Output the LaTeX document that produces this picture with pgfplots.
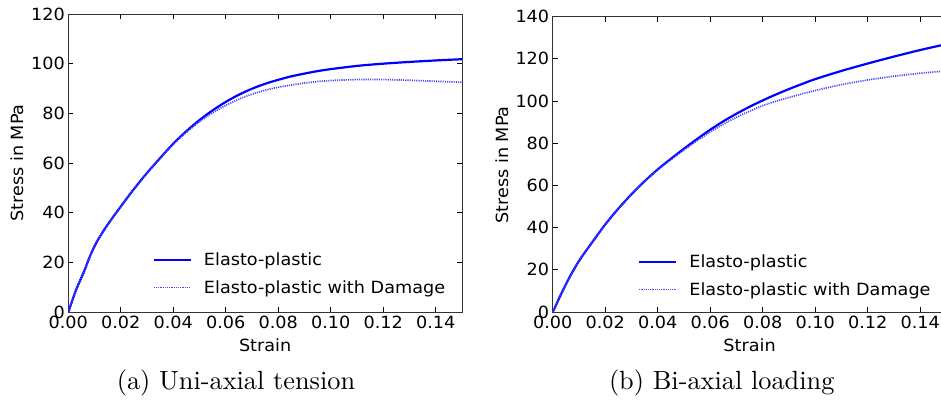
\documentclass[border=0pt]{standalone}
\usepackage{pgfplots}
\pgfplotsset{compat=1.18}
\usepackage{fontspec}
\newfontfamily\dejavu[FakeStretch=1.05]{DejaVu Sans}
\newfontfamily\capfont[Extension=.otf]{lmroman10-regular}

\definecolor{epblue}{RGB}{0,0,255}
\definecolor{dmgblue}{RGB}{70,70,255}

% Elasto-plastic response, uni-axial tension
\pgfplotstableread{
strain stress
0.0000 0.0
0.0005 1.5
0.0030 9.0
0.0060 16.3
0.0080 21.8
0.0100 26.5
0.0120 30.3
0.0150 35.2
0.0200 42.5
0.0250 49.5
0.0300 56.0
0.0350 62.0
0.0400 67.8
0.0450 72.8
0.0500 77.3
0.0550 81.2
0.0600 84.6
0.0650 87.5
0.0700 89.9
0.0750 91.9
0.0800 93.5
0.0850 94.9
0.0900 96.0
0.0950 97.0
0.1000 97.8
0.1100 99.1
0.1200 100.0
0.1300 100.7
0.1400 101.3
0.1500 101.8
}\uniEP

% Elasto-plastic response with damage, uni-axial tension
\pgfplotstableread{
strain stress
0.0000 0.0
0.0005 1.5
0.0030 9.0
0.0060 16.3
0.0080 21.8
0.0100 26.5
0.0120 30.3
0.0150 35.2
0.0200 42.5
0.0250 49.5
0.0300 56.0
0.0350 62.0
0.0400 67.6
0.0450 72.4
0.0500 76.6
0.0550 80.2
0.0600 83.2
0.0650 85.7
0.0700 87.7
0.0750 89.3
0.0800 90.5
0.0850 91.4
0.0900 92.2
0.0950 92.8
0.1000 93.2
0.1100 93.6
0.1200 93.6
0.1300 93.3
0.1400 92.9
0.1500 92.5
}\uniDM

% Elasto-plastic response, bi-axial loading
\pgfplotstableread{
strain stress
0.0000 0.0
0.0005 1.2
0.0030 8.0
0.0060 15.5
0.0080 20.0
0.0100 24.2
0.0120 27.8
0.0150 33.0
0.0200 41.5
0.0250 49.0
0.0300 55.8
0.0350 62.0
0.0400 67.6
0.0450 72.6
0.0500 77.4
0.0550 82.0
0.0600 86.4
0.0650 90.4
0.0700 94.0
0.0750 97.3
0.0800 100.3
0.0850 103.1
0.0900 105.7
0.0950 108.1
0.1000 110.4
0.1100 114.3
0.1200 117.8
0.1300 121.1
0.1400 124.2
0.1500 127.0
}\biEP

% Elasto-plastic response with damage, bi-axial loading
\pgfplotstableread{
strain stress
0.0000 0.0
0.0005 1.2
0.0030 8.0
0.0060 15.5
0.0080 20.0
0.0100 24.2
0.0120 27.8
0.0150 33.0
0.0200 41.5
0.0250 49.0
0.0300 55.8
0.0350 62.0
0.0400 67.4
0.0450 72.2
0.0500 76.8
0.0550 81.2
0.0600 85.3
0.0650 89.0
0.0700 92.3
0.0750 95.2
0.0800 97.8
0.0850 99.9
0.0900 101.7
0.0950 103.4
0.1000 105.0
0.1100 107.8
0.1200 110.0
0.1300 111.8
0.1400 113.2
0.1500 114.3
}\biDM

\pgfplotsset{
  panel/.style={
    scale only axis,
    anchor=south west,
    xmin=0, xmax=0.15, ymin=0,
    tick align=inside,
    major tick length=5pt,
    axis line style={line width=0.9pt, black!80},
    every tick/.style={black, line width=0.8pt},
    xtick={0,0.02,0.04,0.06,0.08,0.10,0.12,0.14},
    xticklabels={0.00,0.02,0.04,0.06,0.08,0.10,0.12,0.14},
    /pgf/number format/assume math mode=true,
    ticklabel style={font=\dejavu\fontsize{16.8}{20}\selectfont},
    label style={font=\dejavu\fontsize{16.8}{20}\selectfont},
    xlabel={Strain},
    ylabel={Stress in MPa},
    legend cell align=left,
    legend image code/.code={\draw[##1] (0pt,0pt) -- (37pt,0pt);},
    legend style={draw=none, fill=none, inner sep=0pt,
      font=\dejavu\fontsize{16.8}{20}\selectfont,
      row sep=9pt,
      /tikz/every odd column/.append style={column sep=10pt}},
  },
  ep/.style={epblue, line width=2.2pt, smooth},
  dm/.style={dmgblue, line width=1.7pt, dash pattern=on 1.1pt off 1.1pt, smooth},
}

\begin{document}
\begin{tikzpicture}[x=1pt,y=1pt]
\useasboundingbox (0,0) rectangle (941,399);

\begin{axis}[panel,
  at={(68.3pt,87pt)}, width=393.7pt, height=298pt,
  ymax=120, ytick={0,20,40,60,80,100,120},
  xlabel style={at={(axis description cs:0.5,-0.111)}, anchor=center},
  ylabel style={at={(axis description cs:-0.130,0.5)}, anchor=center},
  legend style={at={(rel axis cs:0.214,0.205)}, anchor=north west},
]
\addplot[ep] table[x=strain, y=stress] {\uniEP};
\addlegendentry{Elasto-plastic}
\addplot[dm] table[x=strain, y=stress] {\uniDM};
\addlegendentry{Elasto-plastic with Damage}
\end{axis}

\begin{axis}[panel,
  at={(552.7pt,87pt)}, width=393.75pt, height=295.3pt,
  ymax=140, ytick={0,20,40,60,80,100,120,140},
  xlabel style={at={(axis description cs:0.5,-0.112)}, anchor=center},
  ylabel style={at={(axis description cs:-0.129,0.498)}, anchor=center},
  legend style={at={(rel axis cs:0.2166,0.2)}, anchor=north west},
]
\addplot[ep] table[x=strain, y=stress] {\biEP};
\addlegendentry{Elasto-plastic}
\addplot[dm] table[x=strain, y=stress] {\biDM};
\addlegendentry{Elasto-plastic with Damage}
\end{axis}

\node[anchor=base, font=\capfont\fontsize{26.3}{30}\selectfont] at (236,10) {(a) Uni-axial tension};
\node[anchor=base, font=\capfont\fontsize{26.3}{30}\selectfont] at (721.7,10) {(b) Bi-axial loading};
\end{tikzpicture}
\end{document}
